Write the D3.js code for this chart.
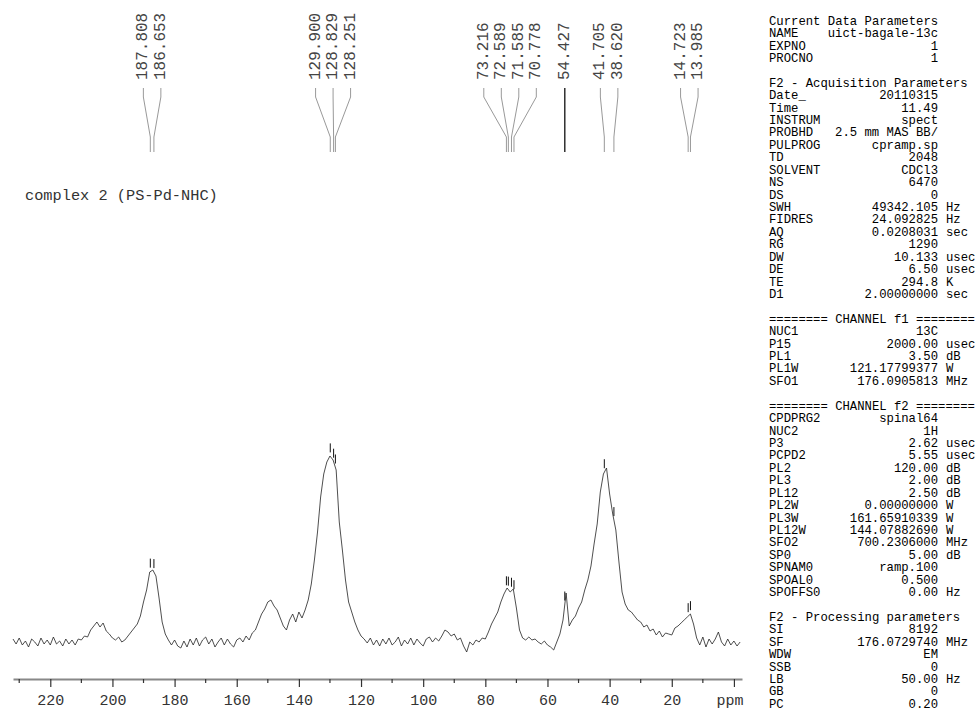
<!DOCTYPE html>
<html>
<head>
<meta charset="utf-8">
<style>
body { margin: 0; background: #fff; }
text { font-family: "Liberation Mono", "DejaVu Sans Mono", monospace; }
</style>
</head>
<body>
<svg width="978" height="711"></svg>
<script src="https://cdn.jsdelivr.net/npm/d3@7/dist/d3.min.js"></script>
<script>
// 13C spectrum, one point per ppm starting at 232 ppm
const specStart = 232
const intensity = [
  3,-2,4,-3,1,-5,3,0,-4,4,          // 232..223
  -2,2,-3,5,-2,1,-4,3,-2,2,         // 222..213
  -3,3,2,6,5,12,16,20,15,19,        // 212..203
  11,8,4,2,5,0,2,6,10,14,           // 202..193
  18,26,40,52,70,72,66,44,20,8,     // 192..183
  2,-3,2,-4,-6,1,-5,3,-3,4,         // 182..173
  -4,2,5,-2,3,-5,0,4,-3,3,          // 172..163
  -2,-5,2,4,0,6,2,9,12,20,          // 162..153
  28,33,40,42,36,32,24,16,12,22,    // 152..143
  28,20,30,24,32,42,58,82,110,145,  // 142..133
  168,180,186,182,172,120,92,62,40,30, // 132..123
  20,12,6,3,-1,4,-3,2,-4,3,         // 122..113
  -2,4,-3,0,5,-4,2,-2,4,-3,         // 112..103
  3,-1,-4,3,5,0,4,1,6,12,           // 102..93
  10,6,8,2,4,-4,-10,0,-3,2,         // 92..83
  0,4,3,10,18,24,30,40,48,54,       // 82..73
  50,53,34,12,4,2,5,2,3,0,          // 72..63
  -2,1,-3,-5,-8,0,8,22,49,16,       // 62..53
  22,26,34,40,52,62,76,98,118,150,  // 52..43
  168,174,148,128,112,80,50,38,32,30, // 42..33
  26,22,20,15,17,11,13,7,11,5,      // 32..23
  9,8,7,14,16,19,22,25,28,18,       // 22..13
  4,-3,5,-5,3,-2,3,10,0,-4,         // 12..3
  3,-3,1,-4,0                       // 2..-2
]

const peakPpm = [187.808, 186.653, 129.900, 128.829, 128.251, 73.216, 72.589, 71.585, 70.778, 54.427, 41.705, 38.620, 14.723, 13.985]

const majorTicks = [220, 200, 180, 160, 140, 120, 100, 80, 60, 40, 20, 0]
const minorTicks = [230, 210, 190, 170, 150, 130, 110, 90, 70, 50, 30, 10]
const axisUnit = "ppm"
const title = "complex 2 (PS-Pd-NHC)"

// acquisition / processing parameter listing
const paramRows = [
  ["Current Data Parameters"],
  ["NAME", "uict-bagale-13c", ""],
  ["EXPNO", "1", ""],
  ["PROCNO", "1", ""],
  [],
  ["F2 - Acquisition Parameters"],
  ["Date_", "20110315", ""],
  ["Time", "11.49", ""],
  ["INSTRUM", "spect", ""],
  ["PROBHD", "2.5 mm MAS BB/", ""],
  ["PULPROG", "cpramp.sp", ""],
  ["TD", "2048", ""],
  ["SOLVENT", "CDCl3", ""],
  ["NS", "6470", ""],
  ["DS", "0", ""],
  ["SWH", "49342.105", "Hz"],
  ["FIDRES", "24.092825", "Hz"],
  ["AQ", "0.0208031", "sec"],
  ["RG", "1290", ""],
  ["DW", "10.133", "usec"],
  ["DE", "6.50", "usec"],
  ["TE", "294.8", "K"],
  ["D1", "2.00000000", "sec"],
  [],
  ["======== CHANNEL f1 ========"],
  ["NUC1", "13C", ""],
  ["P15", "2000.00", "usec"],
  ["PL1", "3.50", "dB"],
  ["PL1W", "121.17799377", "W"],
  ["SFO1", "176.0905813", "MHz"],
  [],
  ["======== CHANNEL f2 ========"],
  ["CPDPRG2", "spinal64", ""],
  ["NUC2", "1H", ""],
  ["P3", "2.62", "usec"],
  ["PCPD2", "5.55", "usec"],
  ["PL2", "120.00", "dB"],
  ["PL3", "2.00", "dB"],
  ["PL12", "2.50", "dB"],
  ["PL2W", "0.00000000", "W"],
  ["PL3W", "161.65910339", "W"],
  ["PL12W", "144.07882690", "W"],
  ["SFO2", "700.2306000", "MHz"],
  ["SP0", "5.00", "dB"],
  ["SPNAM0", "ramp.100", ""],
  ["SPOAL0", "0.500", ""],
  ["SPOFFS0", "0.00", "Hz"],
  [],
  ["F2 - Processing parameters"],
  ["SI", "8192", ""],
  ["SF", "176.0729740", "MHz"],
  ["WDW", "EM", ""],
  ["SSB", "0", ""],
  ["LB", "50.00", "Hz"],
  ["GB", "0", ""],
  ["PC", "0.20", ""]
]

const svg = d3.select("svg")

const x = d3.scaleLinear().domain([232, -2.6]).range([13, 742])
const y = d3.scaleLinear().domain([0, 200]).range([642, 442])

// spectrum trace
const line = d3.line().x((d, i) => x(specStart - i)).y(d => y(d))
svg.append("path").datum(intensity).attr("d", line)
  .attr("fill", "none").attr("stroke", "#222").attr("stroke-width", 0.8)

// axis
const axisY = 679
const axis = svg.append("g").attr("transform", `translate(0,${axisY})`)
  .call(d3.axisBottom(x).tickValues(majorTicks).tickSize(8).tickSizeOuter(0)
    .tickFormat(d => d === 0 ? "" : d))
axis.select(".domain").attr("stroke", "#888").attr("stroke-width", 2)
axis.selectAll(".tick line").attr("stroke", "#333").attr("stroke-width", 1.2)
axis.selectAll(".tick text").attr("y", 21).attr("dy", "0.35em")
  .attr("font-size", 15).attr("fill", "#333")
  .attr("font-family", "Liberation Mono, monospace")
axis.selectAll(".minor").data(minorTicks).join("line").attr("class", "minor")
  .attr("x1", d => x(d)).attr("x2", d => x(d)).attr("y1", 0).attr("y2", 4)
  .attr("stroke", "#333").attr("stroke-width", 1.2)
svg.append("text").attr("x", x(0) - 4).attr("y", axisY + 21).attr("dy", "0.35em")
  .attr("text-anchor", "middle").attr("font-size", 15).attr("fill", "#333").text(axisUnit)

// interpolated height of trace at a ppm
function heightAt(p) {
  const i = specStart - p
  const i0 = Math.floor(i), t = i - i0
  return intensity[i0] * (1 - t) + intensity[Math.min(i0 + 1, intensity.length - 1)] * t
}

// peak-pick markers above the trace
svg.selectAll(".pk").data(peakPpm).join("line").attr("class", "pk")
  .attr("x1", d => x(d)).attr("x2", d => x(d))
  .attr("y1", d => y(heightAt(d)) - 13).attr("y2", d => y(heightAt(d)) - 4)
  .attr("stroke", "#111").attr("stroke-width", 1)

// spread the peak labels so they don't overlap
const gap = 17.5
const px = peakPpm.map(p => x(p))
const groups = []
px.forEach((v, i) => {
  const g = groups[groups.length - 1]
  if (g && v - px[g[g.length - 1]] < gap) g.push(i)
  else groups.push([i])
})
const lx = [], single = []
groups.forEach(g => {
  const mid = d3.mean(g, i => px[i])
  g.forEach((i, k) => {
    lx[i] = mid + (k - (g.length - 1) / 2) * gap
    single[i] = g.length === 1
  })
})

const labels = svg.append("g")
peakPpm.forEach((p, i) => {
  labels.append("path")
    .attr("d", `M${lx[i]},88V97L${px[i]},137V152`)
    .attr("fill", "none").attr("stroke", single[i] ? "#222" : "#999")
    .attr("stroke-width", single[i] ? 1.4 : 1)
  labels.append("text")
    .attr("transform", `translate(${lx[i]},80) rotate(-90)`)
    .attr("dominant-baseline", "central").attr("font-size", 16).attr("fill", "#444")
    .text(p.toFixed(3))
})

svg.append("text").attr("x", 25).attr("y", 196).attr("dominant-baseline", "central")
  .attr("font-size", 15.3).attr("fill", "#333").text(title)

// parameter panel
const panel = svg.append("g").attr("font-size", 12.25).attr("fill", "#000")
paramRows.forEach((r, i) => {
  const yy = 21.7 + i * 12.42
  if (r.length === 0) return
  panel.append("text").attr("x", 769).attr("y", yy).attr("dominant-baseline", "central").text(r[0])
  if (r.length > 1) {
    panel.append("text").attr("x", 938).attr("y", yy).attr("text-anchor", "end")
      .attr("dominant-baseline", "central").text(r[1])
    if (r[2]) panel.append("text").attr("x", 946).attr("y", yy)
      .attr("dominant-baseline", "central").text(r[2])
  }
})
</script>
</body>
</html>
